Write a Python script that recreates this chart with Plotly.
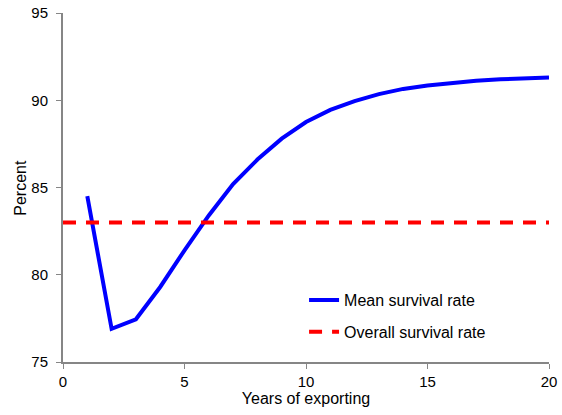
import plotly.graph_objects as go

years = list(range(1, 21))
mean_survival = [84.5, 76.9, 77.45, 79.3, 81.4, 83.4, 85.2, 86.6, 87.8, 88.75,
                 89.45, 89.95, 90.35, 90.65, 90.85, 91.0, 91.12, 91.2, 91.26, 91.3]
overall_x = [0, 20]
overall_survival = [83.0, 83.0]

fig = go.Figure()
fig.add_trace(go.Scatter(x=years, y=mean_survival, mode="lines",
                         name="Mean survival rate", legendgroup="a",
                         line=dict(color="#0000FF", width=4)))
fig.add_trace(go.Scatter(x=overall_x, y=overall_survival, mode="lines",
                         name="Overall survival rate", legendgroup="b",
                         line=dict(color="#FF0000", width=4, dash="13px,10px")))

axis_common = dict(showgrid=False, zeroline=False, showline=True, automargin=False,
                   linecolor="#868686", linewidth=2, ticks="outside",
                   tickcolor="#868686", ticklen=5, tickwidth=1,
                   tickfont=dict(size=15, color="#000000"))

fig.update_layout(
    width=562, height=415,
    margin=dict(l=63, r=13, t=13, b=53),
    plot_bgcolor="white", paper_bgcolor="white",
    font=dict(family="Arial", size=16, color="#000000"),
    xaxis=dict(range=[0, 20], dtick=5,
               title=dict(text="Years of exporting", standoff=4, font=dict(size=16)),
               **axis_common),
    yaxis=dict(range=[75, 95], dtick=5, ticklabelstandoff=5, **axis_common),
    legend=dict(x=0.496, y=0.226, xanchor="left", yanchor="top",
                bgcolor="rgba(0,0,0,0)", font=dict(size=16),
                tracegroupgap=8, itemwidth=30),
    showlegend=True,
    annotations=[dict(text="Percent", textangle=-90, xref="paper", yref="paper",
                      x=-0.088, y=0.5, xanchor="center", yanchor="middle",
                      showarrow=False, font=dict(size=16))],
)

# remove the browser's default 8px body margin so the figure sits at (0, 0)
fig.write_html("out.html", config={"displayModeBar": False},
               post_script="document.body.style.margin='0px';")
